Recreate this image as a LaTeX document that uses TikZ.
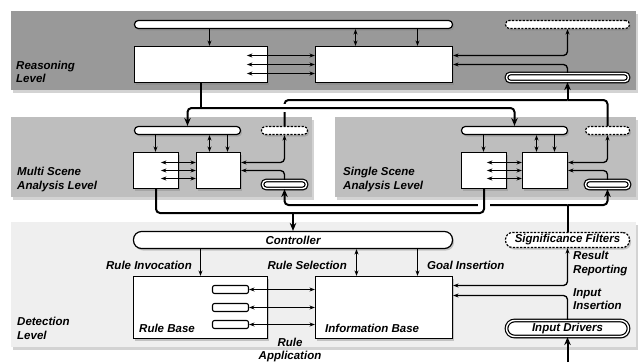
\documentclass[tikz,border=0pt]{standalone}
\usepackage{fontspec}
\setmainfont{Liberation Sans}
\usetikzlibrary{arrows.meta, positioning, calc, shadows}
\definecolor{ReasonGray}{HTML}{999999}
\definecolor{SceneGray}{HTML}{BEBEBE}
\definecolor{DetectGray}{HTML}{EFEFEF}

\begin{document}
\begin{tikzpicture}[x=1pt, y=-1pt,
    font=\fontsize{11.5}{13.5}\selectfont\bfseries\itshape,
    level/.style={rectangle, draw=none, inner sep=0pt,
      drop shadow={shadow xshift=2pt, shadow yshift=-3pt, opacity=0.35}},
    block/.style={rectangle, draw, fill=white, line width=1.2pt, inner sep=0pt,
      drop shadow={shadow xshift=1.5pt, shadow yshift=-2pt, opacity=0.4}},
    pill/.style={block, rounded corners=3.8pt, minimum height=8pt},
    outpill/.style={pill, dash pattern=on 2.2pt off 1.4pt},
    inpill/.style={pill, double, double distance=1.4pt},
    slot/.style={rectangle, draw, fill=white, line width=1.1pt, rounded corners=2pt,
      minimum width=36pt, minimum height=8pt},
    caption/.style={align=left, inner sep=0pt},
    flow/.style={line width=1.3pt, -{Stealth[length=5.5pt, width=4pt]}},
    dual/.style={line width=1.3pt, {Stealth[length=5.5pt, width=4pt]}-{Stealth[length=5.5pt, width=4pt]}},
    link/.style={line width=2pt, rounded corners=4pt},
    bigflow/.style={link, -{Stealth[length=8pt, width=6.5pt]}}
  ]
    \useasboundingbox (0,0) rectangle (639,362);

    % reasoning level
    \node[level, fill=ReasonGray, minimum width=625, minimum height=79] (reasonP) at (323.5,50.5) {};
    \node[caption, anchor=west] (reasonL) at (16,72) {Reasoning\\Level};
    \node[pill, minimum width=318] (rBar) at (293.5,24.5) {};
    \node[outpill, minimum width=124] (rOut) at (567.5,24.5) {};
    \node[block, minimum width=133, minimum height=36] (rA) at (201,64.5) {};
    \node[block, minimum width=137, minimum height=36] (rB) at (384,64.5) {};
    \node[inpill, minimum width=122] (rIn) at (567.5,77.5) {};

    \draw[flow] (rBar.south -| 209.5,0) -- (rA.north -| 209.5,0);
    \draw[dual] (rBar.south -| 355.5,0) -- (rB.north -| 355.5,0);
    \draw[flow] (rBar.south -| 417.5,0) -- (rB.north -| 417.5,0);
    \foreach \y in {55.5,64.5,73.5}
      \draw[dual] (rB.west |- 0,\y) -- ++(-68,0);
    \draw[dual, rounded corners=4pt] (rB.east |- 0,55.5) -| (rOut.south);
    \draw[flow, rounded corners=4pt] (rIn.north) |- (rB.east |- 0,64.5);

    % multi scene analysis level
    \node[level, fill=SceneGray, minimum width=301, minimum height=80] (multiP) at (161.5,157) {};
    \node[caption, anchor=west] (multiL) at (17,179.5) {Multi Scene\\Analysis Level};
    \node[pill, minimum width=106] (mBar) at (187.5,130.5) {};
    \node[outpill, minimum width=46] (mOut) at (284.5,130.5) {};
    \node[block, minimum width=45, minimum height=36] (mA) at (156,170.5) {};
    \node[block, minimum width=44, minimum height=36] (mB) at (218.5,170.5) {};
    \node[inpill, minimum width=44] (mIn) at (284.5,184.5) {};

    \draw[flow] (mBar.south -| 155.5,0) -- (mA.north -| 155.5,0);
    \draw[dual] (mBar.south -| 209.5,0) -- (mB.north -| 209.5,0);
    \draw[flow] (mBar.south -| 227.5,0) -- (mB.north -| 227.5,0);
    \foreach \y in {162.5,170.5,178.5}
      \draw[dual] (mB.west |- 0,\y) -- ++(-35,0);
    \draw[dual, rounded corners=4pt] (mB.east |- 0,162.5) -| (mOut.south);
    \draw[flow, rounded corners=4pt] (mIn.north) |- (mB.east |- 0,170.5);

    % single scene analysis level
    \node[level, fill=SceneGray, minimum width=301, minimum height=80] (singleP) at (485.5,157) {};
    \node[caption, anchor=west] (singleL) at (343,179.5) {Single Scene\\Analysis Level};
    \node[pill, minimum width=106] (sBar) at (514.5,130.5) {};
    \node[outpill, minimum width=44] (sOut) at (607.5,130.5) {};
    \node[block, minimum width=45, minimum height=36] (sA) at (484,170.5) {};
    \node[block, minimum width=45, minimum height=36] (sB) at (545,170.5) {};
    \node[inpill, minimum width=44] (sIn) at (607.5,184.5) {};

    \draw[flow] (sBar.south -| 483.5,0) -- (sA.north -| 483.5,0);
    \draw[dual] (sBar.south -| 536.5,0) -- (sB.north -| 536.5,0);
    \draw[flow] (sBar.south -| 554.5,0) -- (sB.north -| 554.5,0);
    \foreach \y in {162.5,170.5,178.5}
      \draw[dual] (sB.west |- 0,\y) -- ++(-35,0);
    \draw[dual, rounded corners=4pt] (sB.east |- 0,162.5) -| (sOut.south);
    \draw[flow, rounded corners=4pt] (sIn.north) |- (sB.east |- 0,170.5);

    % detection level
    \node[level, fill=DetectGray, minimum width=625, minimum height=125] (detectP) at (323.5,284.5) {};
    \node[caption, anchor=west] (detectL) at (17,328.5) {Detection\\Level};
    \node[block, rounded corners=8pt, minimum width=319, minimum height=17] (ctrl) at (293,240) {Controller};
    \node[block, dash pattern=on 2.2pt off 1.4pt, rounded corners=7pt, minimum width=124, minimum height=15] (sigF) at (567.5,240) {Significance Filters};
    \node[block, minimum width=134, minimum height=62] (rBase) at (200.5,307.5) {};
    \node[block, minimum width=137, minimum height=62] (iBase) at (384,307.5) {};
    \node[anchor=base west, inner sep=0pt] (rBaseT) at (139,332) {Rule Base};
    \node[anchor=base west, inner sep=0pt] (iBaseT) at (325,332) {Information Base};
    \foreach \y [count=\i] in {289.5,307.5,324.5}
      \node[slot] (slot\i) at (230.5,\y) {};
    \node[block, double, double distance=1.4pt, rounded corners=8pt, minimum width=122, minimum height=16] (inDrv) at (567.5,328.5) {Input Drivers};

    \draw[flow] (ctrl.south -| rBase.north) -- (rBase.north);
    \draw[dual] (ctrl.south -| 356.5,0) -- (iBase.north -| 356.5,0);
    \draw[flow] (ctrl.south -| 417.5,0) -- (iBase.north -| 417.5,0);
    \foreach \i in {1,2,3}
      \draw[dual] (slot\i.east) -- (slot\i.east -| iBase.west);
    \draw[dual, rounded corners=4pt] (iBase.east |- 0,285.5) -| (sigF.south);
    \draw[flow, rounded corners=4pt] (inDrv.north) |- (iBase.east |- 0,295.5);

    \node[anchor=base east, inner sep=0pt] (invokeL) at (192,269) {Rule Invocation};
    \node[anchor=base east, inner sep=0pt] (selectL) at (347,269) {Rule Selection};
    \node[anchor=base west, inner sep=0pt] (goalL) at (427,269) {Goal Insertion};
    \node[caption, anchor=west] (resultL) at (573,263.5) {Result\\Reporting};
    \node[caption, anchor=west] (inputL) at (573,299) {Input\\Insertion};
    \node[align=center, inner sep=0pt] (applyL) at (290,350) {Rule\\Application};

    % links between levels
    \coordinate (gather) at (rIn.south |- 0,100);
    \draw[link] (mOut.north) |- (gather);
    \draw[link] (sOut.north) |- (gather);
    \draw[bigflow] (gather) -- (rIn.south);
    \draw[white, line width=4pt] (mOut.north |- 0,104) -- (mOut.north |- 0,112);

    \draw[link] (rA.south) -- (rA.south |- 0,108) coordinate (split);
    \draw[bigflow] (split) -| (mBar.north);
    \draw[bigflow] (split) -| (sBar.north);

    \coordinate (fan) at (sigF.north |- 0,205);
    \draw[link] (sigF.north) -- (fan);
    \draw[bigflow] (fan) -| (mIn.south);
    \draw[bigflow] (fan) -| (sIn.south);
    \draw[white, line width=4pt] (478,205) -- (490,205);

    \coordinate (merge) at (ctrl.north |- 0,213);
    \draw[link] (mA.south) |- (merge);
    \draw[link] (sA.south) |- (merge);
    \draw[bigflow] (merge) -- (ctrl.north);

    \coordinate (feed) at (inDrv.south |- 0,362);
    \draw[bigflow] (feed) -- (inDrv.south);
  \end{tikzpicture}
\end{document}
